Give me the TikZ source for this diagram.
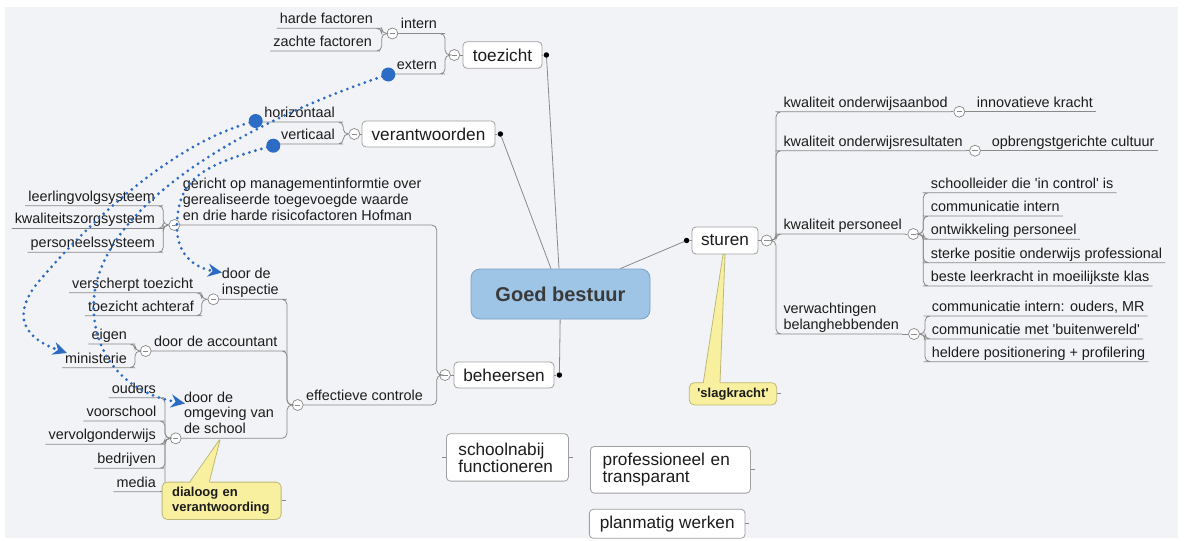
\documentclass[tikz,border=0pt]{standalone}
\usepackage{fontspec}
\setmainfont{Liberation Sans}
\usetikzlibrary{arrows.meta}
\definecolor{bg}{RGB}{242,243,246}
\definecolor{ln}{RGB}{138,138,138}
\definecolor{boxln}{RGB}{160,160,160}
\definecolor{txt}{RGB}{28,28,28}
\definecolor{cfill}{RGB}{158,196,230}
\definecolor{cline}{RGB}{122,160,200}
\definecolor{ctxt}{RGB}{58,58,58}
\definecolor{rel}{RGB}{44,108,196}
\definecolor{notefill}{RGB}{248,240,158}
\definecolor{noteline}{RGB}{190,184,120}
\newcommand\ulstrut{\rule[-4.5pt]{0pt}{4.5pt}}
\newcommand\leftkid[3]{\draw[conn] (#1.west) -- (#2) |- (#3.south east) -- (#3.south west);}
\newcommand\rightkid[3]{\draw[conn] (#1.east) -- (#2) |- (#3.south west) -- (#3.south east);}
\begin{document}
\begin{tikzpicture}[x=1pt,y=-1pt,
 lbl/.style={font=\fontsize{14.4}{15.8}\selectfont, text=txt, inner xsep=3pt, inner ysep=0pt, text height=11pt, text depth=4.5pt},
 mlbl/.style={font=\fontsize{14.4}{15.8}\selectfont, text=txt, inner xsep=3pt, inner ysep=0pt, align=left},
 topic/.style={draw=boxln, fill=white, rounded corners=4pt, line width=0.8pt, font=\fontsize{17.2}{17}\selectfont, text=txt, inner sep=0pt},
 central/.style={draw=cline, fill=cfill, rounded corners=9pt, line width=0.8pt, font=\bfseries\fontsize{20}{20}\selectfont, text=ctxt, inner sep=0pt, minimum width=179pt, minimum height=50pt},
 foldc/.style={circle, draw=ln, fill=white, line width=0.7pt, minimum size=11pt, inner sep=0pt, path picture={\draw[ln, line width=0.9pt] ([xshift=-2.7pt]path picture bounding box.center) -- ([xshift=2.7pt]path picture bounding box.center);}},
 knob/.style={circle, fill=black, minimum size=5.5pt, inner sep=0pt},
 conn/.style={draw=ln, line width=0.8pt, rounded corners=5pt},
 mainln/.style={draw=ln, line width=0.8pt},
 notebox/.style={draw=noteline, fill=notefill, rounded corners=5pt, line width=0.8pt, font=\bfseries\fontsize{13}{14.7}\selectfont, text=txt, inner ysep=0pt},
 relline/.style={draw=rel, line width=3.1pt, line cap=round, dash pattern=on 0pt off 6.2pt, -{Stealth[length=14pt,width=13pt,inset=4.5pt,fill=rel]}},
 reldot/.style={circle, fill=rel, minimum size=14pt, inner sep=0pt}]
\useasboundingbox (0,0) rectangle (1184,541);
\fill[bg] (5,7) rectangle (1178,538);

% main topics
\node[central] (gb) at (560.5,294) {Goed bestuur};
\node[topic, minimum width=79pt, minimum height=26.5pt] (toe) at (502.5,55) {toezicht};
\node[topic, minimum width=133pt, minimum height=26pt] (ver) at (428.5,134) {verantwoorden};
\node[topic, minimum width=66pt, minimum height=27pt] (stu) at (725,240.5) {sturen};
\node[topic, minimum width=100pt, minimum height=26pt] (beh) at (504,375) {beheersen};
\node[knob] (toe-k) at ([xshift=4pt]toe.east) {};
\node[knob] (ver-k) at ([xshift=5pt]ver.east) {};
\node[knob] (stu-k) at ([xshift=-5pt]stu.west) {};
\node[knob] (beh-k) at ([xshift=5pt]beh.east) {};
\draw[mainln] (gb) -- (toe-k);
\draw[mainln] (gb) -- (ver-k);
\draw[mainln] (gb) -- (stu-k);
\draw[mainln] (gb) -- (beh-k);
\draw[mainln] (toe.east) -- (toe-k);
\draw[mainln] (ver.east) -- (ver-k);
\draw[mainln] (stu.west) -- (stu-k);
\draw[mainln] (beh.east) -- (beh-k);

\node[foldc] (toe-f) at (454.3,55) {};
\node[foldc] (ver-f) at (354.3,134) {};
\node[foldc] (stu-f) at (766.7,240.5) {};
\node[foldc] (beh-f) at (445,375) {};
\draw[conn] (toe.west) -- (toe-f.east);
\draw[conn] (ver.west) -- (ver-f.east);
\draw[conn] (stu.east) -- (stu-f.west);
\draw[conn] (beh.west) -- (beh-f.east);

% junctions
\coordinate (toe-j) at (445,55);
\coordinate (intern-j) at (381.7,33.5);
\coordinate (ver-j) at (343.3,134);
\coordinate (beh-j) at (436.7,375);
\coordinate (ger-j) at (163.3,225);
\coordinate (eff-j) at (287,405);
\coordinate (insp-j) at (201.7,299.3);
\coordinate (acc-j) at (135,351);
\coordinate (omg-j) at (165,438.3);
\coordinate (stu-j) at (776,240.5);
\coordinate (k3-j) at (923.3,234);
\coordinate (k4-j) at (925,334);

% toezicht
\node[lbl, anchor=south west] (intern) at (397.7,33.5) {intern};
\node[lbl, anchor=south west] (extern) at (393.7,74) {extern};
\node[foldc] (intern-f) at (392.4,33.5) {};
\node[lbl, anchor=south east] (harde) at (376,28.3) {harde factoren};
\node[lbl, anchor=south east] (zachte) at (375,51) {zachte factoren};
\leftkid{toe-f}{toe-j}{intern}
\leftkid{toe-f}{toe-j}{extern}
\leftkid{intern-f}{intern-j}{harde}
\leftkid{intern-f}{intern-j}{zachte}

% verantwoorden
\node[lbl, anchor=south east] (hor) at (338,122) {horizontaal};
\node[lbl, anchor=south east] (vert) at (338,144) {verticaal};
\leftkid{ver-f}{ver-j}{hor}
\leftkid{ver-f}{ver-j}{vert}

% beheersen
\node[mlbl, anchor=south west] (ger) at (179.7,225) {gericht op managementinformtie over\\gerealiseerde toegevoegde waarde\\en drie harde risicofactoren Hofman\ulstrut};
\node[lbl, anchor=south west] (eff) at (303,405) {effectieve controle};
\node[foldc] (ger-f) at (174.4,225) {};
\node[foldc] (eff-f) at (297.7,405) {};
\leftkid{beh-f}{beh-j}{ger}
\leftkid{beh-f}{beh-j}{eff}
\node[lbl, anchor=south east] (lvs) at (158,205.7) {leerlingvolgsysteem};
\node[lbl, anchor=south east] (kzs) at (158,228.5) {kwaliteitszorgsysteem};
\node[lbl, anchor=south east] (pss) at (158,252.3) {personeelssysteem};
\leftkid{ger-f}{ger-j}{lvs}
\leftkid{ger-f}{ger-j}{kzs}
\leftkid{ger-f}{ger-j}{pss}
\node[mlbl, anchor=south west] (insp) at (218.7,299.3) {door de\\inspectie\ulstrut};
\node[lbl, anchor=south west] (acc) at (151,351) {door de accountant};
\node[mlbl, anchor=south west] (omg) at (181,438.3) {door de\\omgeving van\\de school\ulstrut};
\node[foldc] (insp-f) at (213.4,299.3) {};
\node[foldc] (acc-f) at (145.7,351) {};
\node[foldc] (omg-f) at (175.7,438.3) {};
\leftkid{eff-f}{eff-j}{insp}
\leftkid{eff-f}{eff-j}{acc}
\leftkid{eff-f}{eff-j}{omg}
\node[lbl, anchor=south east] (vt) at (196.3,292.7) {verscherpt toezicht};
\node[lbl, anchor=south east] (ta) at (197,315.7) {toezicht achteraf};
\leftkid{insp-f}{insp-j}{vt}
\leftkid{insp-f}{insp-j}{ta}
\node[lbl, anchor=south east] (eig) at (130,344) {eigen};
\node[lbl, anchor=south east] (min) at (130,367.7) {ministerie};
\leftkid{acc-f}{acc-j}{eig}
\leftkid{acc-f}{acc-j}{min}
\node[lbl, anchor=south east] (oud) at (159,397.7) {ouders};
\node[lbl, anchor=south east] (voor) at (159.5,421) {voorschool};
\node[lbl, anchor=south east] (vervo) at (159,444.3) {vervolgonderwijs};
\node[lbl, anchor=south east] (bedr) at (159,468.3) {bedrijven};
\node[lbl, anchor=south east] (med) at (159,491.7) {media};
\leftkid{omg-f}{omg-j}{oud}
\leftkid{omg-f}{omg-j}{voor}
\leftkid{omg-f}{omg-j}{vervo}
\leftkid{omg-f}{omg-j}{bedr}
\leftkid{omg-f}{omg-j}{med}

% sturen
\node[lbl, anchor=south west] (k1) at (780.3,111.7) {kwaliteit onderwijsaanbod};
\node[lbl, anchor=south west] (k2) at (780.3,150.7) {kwaliteit onderwijsresultaten};
\node[lbl, anchor=south west] (k3) at (780.3,234) {kwaliteit personeel};
\node[mlbl, anchor=south west] (k4) at (780.3,334) {verwachtingen\\belanghebbenden\ulstrut};
\rightkid{stu-f}{stu-j}{k1}
\rightkid{stu-f}{stu-j}{k2}
\rightkid{stu-f}{stu-j}{k3}
\rightkid{stu-f}{stu-j}{k4}
\node[foldc] (k1-f) at (959.3,111.7) {};
\node[foldc] (k2-f) at (975,150.7) {};
\node[foldc] (k3-f) at (913.3,234) {};
\node[foldc] (k4-f) at (914,334) {};
\draw[conn] (k1.south east) -- (k1-f.west);
\draw[conn] (k2.south east) -- (k2-f.west);
\draw[conn] (k3.south east) -- (k3-f.west);
\draw[conn] (k4.south east) -- (k4-f.west);
\node[lbl, anchor=south west] (inno) at (973.7,111.7) {innovatieve kracht};
\draw[conn] (k1-f.east) -- (inno.south west) -- (inno.south east);
\node[lbl, anchor=south west] (opb) at (988.7,150.7) {opbrengstgerichte cultuur};
\draw[conn] (k2-f.east) -- (opb.south west) -- (opb.south east);
\node[lbl, anchor=south west] (p1) at (927.7,192.7) {schoolleider die \textquotesingle in control\textquotesingle{} is};
\node[lbl, anchor=south west] (p2) at (927.7,216) {communicatie intern};
\node[lbl, anchor=south west] (p3) at (927.7,239.3) {ontwikkeling personeel};
\node[lbl, anchor=south west] (p4) at (927.7,262.7) {sterke positie onderwijs professional};
\node[lbl, anchor=south west] (p5) at (927.7,286) {beste leerkracht in moeilijkste klas};
\rightkid{k3-f}{k3-j}{p1}
\rightkid{k3-f}{k3-j}{p2}
\rightkid{k3-f}{k3-j}{p3}
\rightkid{k3-f}{k3-j}{p4}
\rightkid{k3-f}{k3-j}{p5}
\node[lbl, anchor=south west] (v1) at (928.7,316) {communicatie intern: ouders, MR};
\node[lbl, anchor=south west] (v2) at (928.7,339) {communicatie met \textquotesingle buitenwereld\textquotesingle};
\node[lbl, anchor=south west] (v3) at (928.7,361.7) {heldere positionering + profilering};
\rightkid{k4-f}{k4-j}{v1}
\rightkid{k4-f}{k4-j}{v2}
\rightkid{k4-f}{k4-j}{v3}

% floating topics
\node[topic, anchor=north west, text width=98pt, inner xsep=12pt, minimum height=47.4pt, align=left] (sn) at (446,433.3) {schoolnabij\\functioneren};
\node[topic, anchor=north west, text width=135.4pt, inner xsep=12.3pt, minimum height=46.7pt, align=left] (pt) at (590,446) {professioneel en\\transparant};
\node[topic, minimum width=155.7pt, minimum height=29pt] (pw) at (667.2,523.8) {planmatig werken};
\draw[conn] (sn.west) -- ++(-4,0);
\draw[conn] (sn.east) -- ++(4,0);
\draw[conn] (pt.east) -- ++(4,0);
\draw[conn] (pw.east) -- ++(4,0);

% callouts
\node[notebox, anchor=north west, text width=99pt, inner xsep=10pt, minimum height=37.3pt, align=left] (dia) at (161.7,481.7) {dialoog en\\verantwoording};
\fill[notefill] (190,483.5) -- (219.3,440) -- (220,440) -- (209.3,483.5) -- cycle;
\draw[noteline, line width=0.8pt] (190,481.7) -- (219.3,440) -- (220,440) -- (209.3,481.7);
\node[notebox, minimum width=87.4pt, minimum height=22.3pt, inner xsep=0pt] (slag) at (733,393.8) {\textquotesingle slagkracht\textquotesingle};
\fill[notefill] (703.3,384.5) -- (723,254.5) -- (725,254.5) -- (720,384.5) -- cycle;
\draw[noteline, line width=0.8pt] (703.3,382.7) -- (723,254.5) -- (725,254.5) -- (720,382.7);
\draw[conn] (dia.east) -- ++(4,0);
\draw[conn] (slag.east) -- ++(4,0);

% relationships
\node[reldot] (rd-ext) at (388.3,74.5) {};
\node[reldot] (rd-hor) at (255.7,121) {};
\node[reldot] (rd-ver) at (273.3,145.7) {};
\coordinate (insp-in) at (222,272.5);
\coordinate (min-in) at (67,353);
\coordinate (omg-in) at (185,403.5);
\draw[relline] (rd-ext.center) .. controls (250,120) and (110,200) .. (95,290) .. controls (87.5,335) and (110,390) .. (omg-in);
\draw[relline] (rd-hor.center) .. controls (180,140) and (100,210) .. (40,280) .. controls (16,308) and (15,335) .. (min-in);
\draw[relline] (rd-ver.center) .. controls (200,165) and (178,180) .. (177,225) .. controls (176,255) and (195,268) .. (insp-in);
\end{tikzpicture}
\end{document}
